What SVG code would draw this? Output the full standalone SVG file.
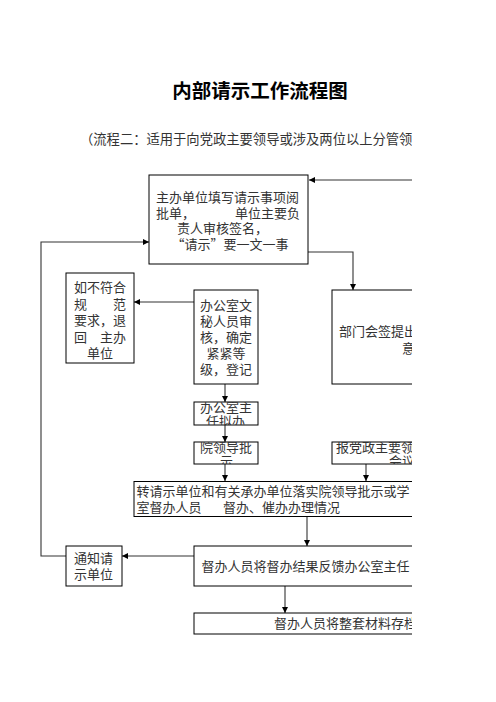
<svg xmlns="http://www.w3.org/2000/svg" width="496" height="702" viewBox="0 0 496 702">
<defs>
<style>
.t{font-family:"Noto Sans CJK SC","Liberation Serif",serif;font-size:13px;fill:#333}
.title{font-family:"Noto Sans CJK SC","Liberation Sans",sans-serif;font-size:19.5px;font-weight:bold;fill:#000}
.box{fill:#fff;stroke:#000;stroke-width:1}
.ln{fill:none;stroke:#333;stroke-width:1.1}
</style>
<marker id="ah" markerUnits="userSpaceOnUse" markerWidth="7" markerHeight="6" refX="6" refY="3" orient="auto">
<path d="M0,0 L6,3 L0,6 z" fill="#000"/>
</marker>
<clipPath id="page"><rect x="0" y="0" width="412" height="702"/></clipPath>
<clipPath id="c-nb"><rect x="194" y="402" width="64" height="23"/></clipPath>
<clipPath id="c-ps"><rect x="194" y="442" width="64" height="22"/></clipPath>
<clipPath id="c-bd"><rect x="332" y="442" width="80" height="22"/></clipPath>
</defs>
<rect width="496" height="702" fill="#fff"/>
<text class="title" x="260" y="98" text-anchor="middle">内部请示工作流程图</text>
<g clip-path="url(#page)">
<text class="t" x="80" y="144" style="font-size:13.3px">（流程二：适用于向党政主要领导或涉及两位以上分管领导</text>

<g id="connectors">
<path class="ln" d="M412,180 L309,180" marker-end="url(#ah)"/>
<path class="ln" d="M66,556 L41,556 L41,242 L149,242" marker-end="url(#ah)"/>
<path class="ln" d="M308,252 L353,252 L353,290" marker-end="url(#ah)"/>
<path class="ln" d="M194,302 L134,302" marker-end="url(#ah)"/>
<path class="ln" d="M225,384 L225,402" marker-end="url(#ah)"/>
<path class="ln" d="M225,425 L225,442" marker-end="url(#ah)"/>
<path class="ln" d="M225,464 L225,481" marker-end="url(#ah)"/>
<path class="ln" d="M366,464 L366,481" marker-end="url(#ah)"/>
<path class="ln" d="M307,517 L307,546" marker-end="url(#ah)"/>
<path class="ln" d="M194,556 L122,556" marker-end="url(#ah)"/>
<path class="ln" d="M285,586 L285,613" marker-end="url(#ah)"/>
</g>

<g id="n-fill">
<rect class="box" x="149" y="175" width="159" height="89"/>
<text class="t" x="156" y="202">主办单位填写请示事项阅</text>
<text class="t" x="156" y="217.5">批单，</text>
<text class="t" x="300" y="217.5" text-anchor="end">单位主要负</text>
<text class="t" x="222.5" y="233" text-anchor="middle">责人审核签名，</text>
<text class="t" x="230" y="248.5" text-anchor="middle">“请示”要一文一事</text>
</g>

<g id="n-reject">
<rect class="box" x="66" y="273" width="68" height="90"/>
<text class="t" x="74" y="292">如不符合</text>
<text class="t" x="74" y="308.5">规</text>
<text class="t" x="126" y="308.5" text-anchor="end">范</text>
<text class="t" x="74" y="325">要求，退</text>
<text class="t" x="74" y="341.5">回</text>
<text class="t" x="126" y="341.5" text-anchor="end">主办</text>
<text class="t" x="100" y="357.5" text-anchor="middle">单位</text>
</g>

<g id="n-secretary">
<rect class="box" x="194" y="290" width="64" height="94"/>
<text class="t" x="200" y="310">办公室文</text>
<text class="t" x="200" y="326">秘人员审</text>
<text class="t" x="200" y="342">核，确定</text>
<text class="t" x="226" y="358" text-anchor="middle">紧紧等</text>
<text class="t" x="200" y="374">级，登记</text>
</g>

<g id="n-countersign">
<rect class="box" x="332" y="290" width="100" height="94"/>
<text class="t" x="339" y="336">部门会签提出</text>
<text class="t" x="402" y="353">意见</text>
</g>

<g id="n-director">
<rect class="box" x="194" y="402" width="64" height="23"/>
<g clip-path="url(#c-nb)">
<text class="t" x="200" y="411.5">办公室主</text>
<text class="t" x="225.5" y="426" text-anchor="middle">任拟办</text>
</g>
</g>

<g id="n-instruct">
<rect class="box" x="194" y="442" width="64" height="22"/>
<g clip-path="url(#c-ps)">
<text class="t" x="200" y="452">院领导批</text>
<text class="t" x="226.5" y="466" text-anchor="middle">示</text>
</g>
</g>

<g id="n-report">
<rect class="box" x="332" y="442" width="100" height="22"/>
<g clip-path="url(#c-bd)">
<text class="t" x="336" y="452">报党政主要领</text>
<text class="t" x="389" y="466">会议</text>
</g>
</g>

<g id="n-transfer">
<rect class="box" x="134" y="481.5" width="300" height="35"/>
<text class="t" x="136.5" y="496">转请示单位和有关承办单位落实院领导批示或学</text>
<text class="t" x="136.5" y="512">室督办人员</text>
<text class="t" x="223" y="512">督办、催办办理情况</text>
</g>

<g id="n-notify">
<rect class="box" x="66" y="546" width="56" height="40"/>
<text class="t" x="74" y="563">通知请</text>
<text class="t" x="74" y="579">示单位</text>
</g>

<g id="n-feedback">
<rect class="box" x="194" y="546" width="240" height="40"/>
<text class="t" x="201.5" y="571">督办人员将督办结果反馈办公室主任</text>
</g>

<g id="n-archive">
<rect class="box" x="194" y="613" width="240" height="21"/>
<text class="t" x="274" y="628">督办人员将整套材料存档</text>
</g>
</g>
</svg>
